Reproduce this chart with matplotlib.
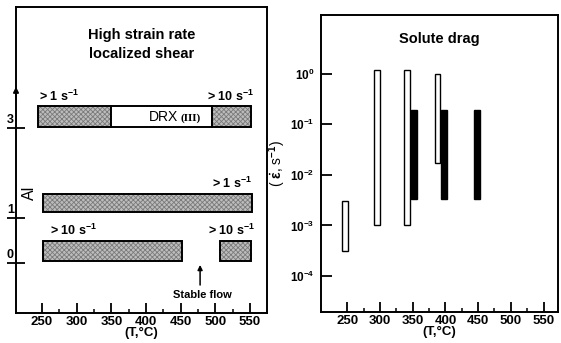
import matplotlib
matplotlib.use("Agg")
import matplotlib.pyplot as plt
from matplotlib.ticker import FixedLocator, NullFormatter
import matplotlib.transforms as mtrans

plt.rcParams['font.family'] = ['Liberation Sans', 'DejaVu Sans']
plt.rcParams['mathtext.fontset'] = 'custom'
plt.rcParams['mathtext.rm'] = 'Liberation Sans:bold'
plt.rcParams['mathtext.bf'] = 'Liberation Sans:bold'
plt.rcParams['mathtext.it'] = 'Liberation Sans:bold:italic'
plt.rcParams['mathtext.default'] = 'bf'
plt.rcParams['hatch.linewidth'] = 0.6

# ---------------- data ----------------
# Left panel: processing map regimes (Al content rows 3, 1, 0), temperature spans
row_levels = [3, 1, 0]
row_labels = ["3", "1", "0"]
# (start T, end T, kind) kind: 'h' = hatched instability, 'w' = white DRX
row3_segments = [(244, 350, 'h'), (350, 495, 'w'), (495, 552, 'h')]
row1_segments = [(251, 553, 'h')]
row0_segments = [(251, 452, 'h'), (507, 552, 'h')]
bar_offset = [0.03, 0.13, 0.04]
bar_height = [0.45, 0.40, 0.45]
rate_labels = [
    ("> 1 s$^{-1}$", 275, 3.53),
    ("> 10 s$^{-1}$", 522, 3.53),
    ("> 1 s$^{-1}$", 524, 1.6),
    ("> 10 s$^{-1}$", 296, 0.56),
    ("> 10 s$^{-1}$", 524, 0.56),
]

# Right panel: solute drag strain-rate ranges
open_T = [247, 295, 342, 388]
open_low = [3.2e-4, 1.0e-3, 1.0e-3, 1.7e-2]
open_high = [3.0e-3, 1.2, 1.2, 1.0]
solid_T = [352, 398, 448]
solid_low = [3.3e-3, 3.3e-3, 3.3e-3]
solid_high = [0.19, 0.19, 0.19]
decades = [1e0, 1e-1, 1e-2, 1e-3, 1e-4]
decade_labels = ["$10^{0}$", "$10^{-1}$", "$10^{-2}$", "$10^{-3}$", "$10^{-4}$"]

x_major = [250, 300, 350, 400, 450, 500, 550]
x_minor = [275, 325, 375, 425, 475, 525]

# ---------------- figure ----------------
fig = plt.figure(figsize=(5.61, 3.43), dpi=100)
W, H = 561, 343
axL = fig.add_axes([16 / W, 1 - 313 / H, (267 - 16) / W, (313 - 7) / H])
axR = fig.add_axes([321 / W, 1 - 312 / H, (558 - 321) / W, (312 - 15) / H])

for ax in (axL, axR):
    for s in ax.spines.values():
        s.set_linewidth(1.4)
    ax.xaxis.set_major_locator(FixedLocator(x_major))
    ax.xaxis.set_minor_locator(FixedLocator(x_minor))
    ax.xaxis.set_minor_formatter(NullFormatter())
    ax.tick_params(axis='x', which='major', direction='in', length=7.5, width=1.3,
                   labelsize=9.5, pad=2.5)
    ax.tick_params(axis='x', which='minor', direction='in', length=3, width=1.1)
    for lab in ax.get_xticklabels():
        lab.set_fontweight('bold')
    ax.set_xlabel("(T,°C)", fontsize=9.5, fontweight='bold', labelpad=-1)

# ---- left panel ----
axL.set_xlim(212.5, 574.5)
axL.set_ylim(-1.11, 5.69)
axL.set_yticks(row_levels)
axL.set_yticklabels([])
axL.tick_params(axis='y', direction='inout', length=13, width=1.3)

all_rows = [row3_segments, row1_segments, row0_segments]
for lvl, segs, off, hgt in zip(row_levels, all_rows, bar_offset, bar_height):
    for (t0, t1, kind) in segs:
        if kind == 'h':
            axL.barh(lvl + off, t1 - t0, height=hgt, left=t0, align='edge',
                     color='#bdbdbd', hatch='xxxxxxx', edgecolor='#7a7a7a',
                     linewidth=0, zorder=2)
        axL.barh(lvl + off, t1 - t0, height=hgt, left=t0, align='edge',
                 facecolor='none' if kind == 'h' else 'white',
                 edgecolor='black', linewidth=1.4, zorder=3)

for txt, x, y in rate_labels:
    axL.text(x, y, txt, ha='center', va='bottom', fontsize=9, fontweight='bold')
axL.text(447, 3.24, "DRX", ha='right', va='center', fontsize=10)
axL.text(450, 3.21, "(III)", ha='left', va='center', fontsize=8, fontweight='bold',
         family='Liberation Serif')

# tick labels for Al rows placed above tick lines, left of spine
offL = mtrans.blended_transform_factory(axL.transAxes, axL.transData)
for lvl, lab in zip(row_levels, row_labels):
    axL.text(-0.022, lvl + 0.04, lab, transform=offL, ha='center', va='bottom',
             fontsize=9, fontweight='bold', clip_on=False)
axL.text(0.052, 1.55, "Al", transform=offL, rotation=90, ha='center', va='center',
         fontsize=11.5)
# arrow head on the Al axis
axL.annotate("", xy=(0, 3.98), xytext=(0, 3.6), xycoords=offL, textcoords=offL,
             arrowprops=dict(arrowstyle='-|>', color='black', lw=1.2,
                             mutation_scale=8), annotation_clip=False)

axL.text(0.5, 0.878, "High strain rate\nlocalized shear", transform=axL.transAxes,
         ha='center', va='center', fontsize=10.5, fontweight='bold', linespacing=1.5)

axL.annotate("", xy=(478, 0.02), xytext=(478, -0.55),
             arrowprops=dict(arrowstyle='-|>', color='black', lw=1.1, mutation_scale=7))
axL.text(481, -0.72, "Stable flow", ha='center', va='center', fontsize=8,
         fontweight='bold')

# ---- right panel ----
axR.set_yscale('log')
axR.set_xlim(210, 572)
axR.set_ylim(10 ** -4.71, 10 ** 1.16)
axR.yaxis.set_major_locator(FixedLocator(decades))
axR.set_yticklabels(decade_labels)
axR.yaxis.set_minor_locator(FixedLocator([]))
axR.tick_params(axis='y', which='major', direction='in', length=8, width=1.3,
                labelsize=8.5, pad=5)

bw = 9
axR.bar(open_T, [h - l for h, l in zip(open_high, open_low)], bottom=open_low,
        width=bw, facecolor='white', edgecolor='black', linewidth=1.0, zorder=2)
axR.bar(solid_T, [h - l for h, l in zip(solid_high, solid_low)], bottom=solid_low,
        width=bw, facecolor='black', edgecolor='black', linewidth=1.0, zorder=3)

axR.text(0.5, 0.918, "Solute drag", transform=axR.transAxes, ha='center',
         va='center', fontsize=10.5, fontweight='bold')
axR.set_ylabel(r"( $\dot{\varepsilon}$, s$^{-1}$)", fontsize=10, labelpad=1)

fig.savefig("out.png", dpi=100)
